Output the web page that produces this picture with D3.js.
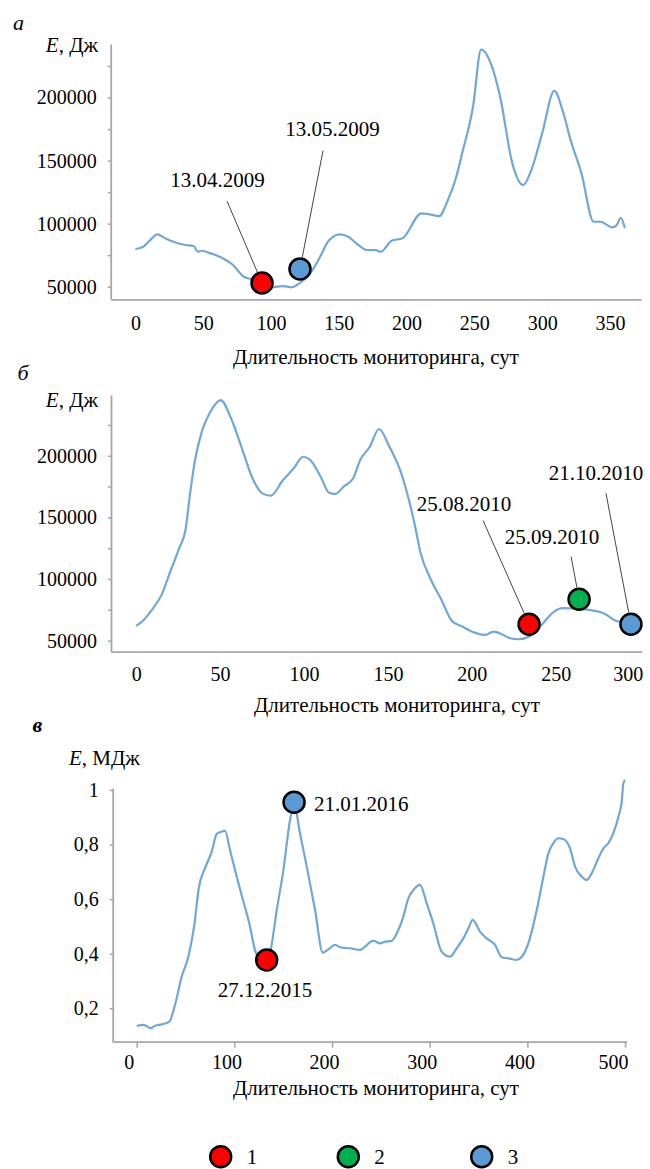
<!DOCTYPE html>
<html>
<head>
<meta charset="utf-8">
<script src="https://cdn.jsdelivr.net/npm/d3@7"></script>
<style>
  html, body { margin: 0; padding: 0; background: #fff; }
  svg { display: block; }
</style>
</head>
<body>
<svg id="chart" width="650" height="1169"></svg>
<script>
// ---- Panel а: 2009 monitoring, energy in J ----
const daysA = [0,5,11,16,22,29,37,43,46,49,54,63,72,80,88,94,100,109,115,121,
  129,135,143,151,157,163,171,177,181,189,197,211,217,224,231,236,241,249,255,262,
  269,278,286,292,300,309,315,321,329,338,343,352,355,358,361];
const energyA = [79900,81200,87000,91500,88400,85200,83100,82300,77700,78500,
  77000,73300,67200,57900,55300,52900,49500,50500,49500,52700,
  60600,71200,87000,91500,89600,84400,79100,79100,77700,86500,
  88400,108200,107400,106000,120100,134600,155800,192700,238300,227600,
  200700,147800,130600,142500,171600,205400,190100,166300,139900,101500,
  101500,97100,98900,104700,96300];
const xTicksA = [0,50,100,150,200,250,300,350];
const yTicksA = [50000,75000,100000,125000,150000,175000,200000,225000];
const yLabelsA = [50000,100000,150000,200000];
const markerDaysA = [93.4, 121.4];
const markerValuesA = [52900, 64000];
const markerTypesA = [1, 3];
const markerTextA = ["13.04.2009", "13.05.2009"];

// ---- Panel б: 2010 monitoring, energy in J ----
const daysB = [0,4.5,9.4,15.1,20.7,25.6,29.4,32,35,39.2,44.2,
  50.4,56.5,62.7,68.9,75.1,80.1,87.5,93.9,99.5,103.7,
  109.9,114.9,118.6,123.6,129.3,133.5,139.2,144.7,150.9,157.6,
  165.8,169.5,175.7,181.9,188,194.3,201.7,207.9,212.9,216.6,
  222.8,227.8,234,241.5,249,254,266,278.5,284.7,291,295];
const energyB = [61900,66800,74900,87100,107300,124900,140000,168000,196000,220000,235700,
  245200,230400,207300,183000,169500,167600,180300,189800,199200,196500,
  183000,170000,169000,174900,181700,196500,207300,221700,207300,187100,
  145200,120900,99200,83000,66200,61400,56500,54600,57300,56000,
  51900,51100,53200,62700,73500,76300,75500,72200,66800,64100,62000];
const xTicksB = [0,50,100,150,200,250,300];
const yTicksB = [50000,75000,100000,125000,150000,175000,200000,225000];
const yLabelsB = [50000,100000,150000,200000];
const markerDaysB = [234.1, 263.9, 294.8];
const markerValuesB = [63300, 83600, 63300];
const markerTypesB = [1, 2, 3];
const markerTextB = ["25.08.2010", "25.09.2010", "21.10.2010"];

// ---- Panel в: 2015-2016 monitoring, energy in MJ ----
const daysC = [0,6.8,10.2,14.3,18.7,25.6,33.4,39.2,46,52.9,
  58.7,63.8,69.9,76.8,81.9,85.3,90.4,95.5,102.4,109.2,
  115.3,121.1,126.3,133,137.2,143.4,150.2,157,161,167.2,
  174.1,182.6,190.5,196.2,203,209.9,218.4,228.7,233.8,242.3,
  249.1,254.3,261.1,267.9,273,278.1,283.2,290.1,296.9,303.7,
  312.3,320.8,327.7,334.4,339.6,344,351.5,358.4,366.9,373.7,
  380.5,389.1,394.2,401,409.6,416.4,421.5,426.6,431.7,436.8,
  443.7,448.8,455.7,460.8,465.9,472.7,477.8,482.9,488,493.2,
  496.6,498.3,500];
const energyC = [0.135,0.139,0.135,0.127,0.136,0.141,0.151,0.212,0.316,0.389,
  0.499,0.646,0.713,0.774,0.839,0.845,0.850,0.780,0.682,0.591,
  0.511,0.414,0.377,0.365,0.414,0.560,0.707,0.890,0.950,0.841,
  0.719,0.560,0.404,0.416,0.432,0.422,0.420,0.414,0.426,0.448,
  0.438,0.444,0.447,0.487,0.536,0.603,0.633,0.652,0.585,0.511,
  0.407,0.389,0.420,0.456,0.493,0.524,0.481,0.456,0.432,0.387,
  0.383,0.377,0.389,0.438,0.560,0.682,0.768,0.805,0.823,0.820,
  0.786,0.719,0.682,0.670,0.695,0.750,0.786,0.805,0.841,0.902,
  0.957,1.024,1.037];
const xTicksC = [0,100,200,300,400,500];
const yTicksC = [0.2,0.4,0.6,0.8,1.0];
const yLabelsC = [0.2,0.4,0.6,0.8,1.0];
const markerDaysC = [133.1, 161.1];
const markerValuesC = [0.377, 0.955];
const markerTypesC = [1, 3];
const markerTextC = ["27.12.2015", "21.01.2016"];

// ---- Legend ----
const legendTypes = [1, 2, 3];
const legendLabels = ["1", "2", "3"];

const typeColors = { 1: "#ff0000", 2: "#00b050", 3: "#5b9bd5" };
const LINE_COLOR = "#72a7d4";
const AXIS_COLOR = "#a6a6a6";
const FONT = '"Liberation Serif"';
const DOT_R = 10.5;
const xTitle = "Длительность мониторинга, сут";

const svg = d3.select("#chart");

// every text element gets the serif face and a size
function serif(sel, size) {
  return sel.attr("font-family", null).style("font-family", FONT).style("font-size", size + "px");
}

function drawPanel(p) {
  const x = d3.scaleLinear().domain(p.xDomain).range(p.xRange);
  const y = d3.scaleLinear().domain(p.yDomain).range(p.yRange);
  const g = svg.append("g");

  // y axis with minor ticks, labels only on major ones
  const yAxis = d3.axisLeft(y)
    .tickValues(p.yTicks)
    .tickSize(3)
    .tickSizeOuter(0)
    .tickPadding(11)
    .tickFormat(d => p.yLabels.some(v => Math.abs(v - d) < 1e-9) ? p.yFormat(d) : "");
  const ya = g.append("g").attr("transform", `translate(${p.xRange[0]},0)`).call(yAxis);

  // x axis
  const xAxis = d3.axisBottom(x)
    .tickValues(p.xTicks)
    .tickSize(p.xTickSize)
    .tickSizeOuter(0)
    .tickFormat(d3.format("d"));
  const xa = g.append("g").attr("transform", `translate(0,${p.yRange[0]})`).call(xAxis);
  xa.selectAll("text").attr("y", p.xLabelOffset).attr("dy", "0.35em")
    .attr("dx", (d, i, n) => i === n.length - 1 ? p.xLastDx : p.xLabelDx);

  [ya, xa].forEach(a => {
    a.attr("font-family", null).attr("font-size", null);
    a.select(".domain").attr("stroke", AXIS_COLOR).attr("stroke-width", 1.8);
    a.selectAll(".tick line").attr("stroke", AXIS_COLOR).attr("stroke-width", 1.5);
    serif(a.selectAll("text").attr("fill", "#000"), 20);
  });

  // series line
  const pts = d3.zip(p.days, p.values);
  g.append("path")
    .datum(pts)
    .attr("fill", "none")
    .attr("stroke", LINE_COLOR)
    .attr("stroke-width", 2.2)
    .attr("stroke-linejoin", "round")
    .attr("d", d3.line().x(d => x(d[0])).y(d => y(d[1])).curve(d3.curveMonotoneX));

  // markers with date annotations
  const marks = p.mDays.map((d, i) => ({
    cx: x(d), cy: y(p.mValues[i]), type: p.mTypes[i], text: p.mText[i], ann: p.ann[i]
  }));

  marks.forEach(m => {
    if (m.ann.line) {
      const [sx, sy] = m.ann.line;
      const len = Math.hypot(sx, sy);
      const k = (DOT_R + 1.5) / len;
      g.append("line")
        .attr("x1", m.cx + sx).attr("y1", m.cy + sy)
        .attr("x2", m.cx + sx * k).attr("y2", m.cy + sy * k)
        .attr("stroke", "#444").attr("stroke-width", 1);
    }
  });

  g.selectAll("circle.marker").data(marks).join("circle")
    .attr("class", "marker")
    .attr("cx", d => d.cx).attr("cy", d => d.cy).attr("r", DOT_R)
    .attr("fill", d => typeColors[d.type])
    .attr("stroke", "#000").attr("stroke-width", 2.5);

  serif(g.selectAll("text.date").data(marks).join("text")
    .attr("class", "date")
    .attr("x", d => d.cx + d.ann.label[0])
    .attr("y", d => d.cy + d.ann.label[1])
    .attr("dy", "0.35em")
    .attr("text-anchor", d => d.ann.anchor || "middle")
    .text(d => d.text), 21);

  // axis titles
  serif(g.append("text")
    .attr("x", p.xTitlePos[0]).attr("y", p.xTitlePos[1]).attr("dy", "0.35em")
    .attr("text-anchor", "middle").text(xTitle), 21);

  const yt = serif(g.append("text")
    .attr("x", p.yTitlePos[0]).attr("y", p.yTitlePos[1]).attr("dy", "0.35em")
    .attr("text-anchor", p.yTitleAnchor), 21);
  yt.append("tspan").style("font-style", "italic").text("E");
  yt.append("tspan").text(p.yUnit);

  // panel letter
  serif(g.append("text")
    .attr("x", p.letterPos[0]).attr("y", p.letterPos[1]).attr("dy", "0.35em")
    .attr("text-anchor", "middle")
    .style("font-style", "italic")
    .style("font-weight", p.letterBold ? "bold" : "normal")
    .text(p.letter), 22);
}

const fmtInt = d3.format("d");
const fmtComma = d => String(d3.format("~g")(d)).replace(".", ",");

drawPanel({
  days: daysA, values: energyA,
  xDomain: [-18.2, 372.9], xRange: [110.7, 641],
  yDomain: [40000, 242500], yRange: [299.3, 44],
  xTicks: xTicksA, yTicks: yTicksA, yLabels: yLabelsA, yFormat: fmtInt,
  xTickSize: 0, xLabelOffset: 24, xLabelDx: 0, xLastDx: 0,
  mDays: markerDaysA, mValues: markerValuesA, mTypes: markerTypesA, mText: markerTextA,
  ann: [
    { label: [-44.5, -103.7], line: [-35, -82] },
    { label: [32.5, -140.7], line: [23, -118.3] }
  ],
  xTitlePos: [376, 357], yTitlePos: [98, 45], yTitleAnchor: "end", yUnit: ", Дж",
  letter: "а", letterPos: [18.5, 22], letterBold: false
});

drawPanel({
  days: daysB, values: energyB,
  xDomain: [-15, 301.2], xRange: [111, 641.7],
  yDomain: [41000, 249300], yRange: [651.7, 395],
  xTicks: xTicksB, yTicks: yTicksB, yLabels: yLabelsB, yFormat: fmtInt,
  xTickSize: 0, xLabelOffset: 22.3, xLabelDx: 0, xLastDx: -12,
  mDays: markerDaysB, mValues: markerValuesB, mTypes: markerTypesB, mText: markerTextB,
  ann: [
    { label: [-65, -120.3], line: [-46, -103.6] },
    { label: [-27, -62.6], line: [-8, -42.6] },
    { label: [-35, -151.3], line: [-25, -131] }
  ],
  xTitlePos: [397, 705], yTitlePos: [98, 400], yTitleAnchor: "end", yUnit: ", Дж",
  letter: "б", letterPos: [23, 372], letterBold: false
});

drawPanel({
  days: daysC, values: energyC,
  xDomain: [-24.6, 501.7], xRange: [112.7, 626.7],
  yDomain: [0.0776, 1.007], yRange: [1041.7, 788],
  xTicks: xTicksC, yTicks: yTicksC, yLabels: yLabelsC, yFormat: fmtComma,
  xTickSize: 6, xLabelOffset: 20, xLabelDx: -8, xLastDx: -12,
  mDays: markerDaysC, mValues: markerValuesC, mTypes: markerTypesC, mText: markerTextC,
  ann: [
    { label: [-1.7, 30] },
    { label: [20, 1], anchor: "start" }
  ],
  xTitlePos: [376, 1088], yTitlePos: [69, 758], yTitleAnchor: "start", yUnit: ", МДж",
  letter: "в", letterPos: [37.5, 724], letterBold: true
});

// legend
const legendX = d3.scaleOrdinal().domain(legendTypes).range([220.7, 348.3, 481.7]);
const lg = svg.append("g");
legendTypes.forEach((t, i) => {
  const cx = legendX(t);
  lg.append("circle").attr("cx", cx).attr("cy", 1156.7).attr("r", DOT_R)
    .attr("fill", typeColors[t]).attr("stroke", "#000").attr("stroke-width", 2.5);
  serif(lg.append("text").attr("x", cx + 26).attr("y", 1157).attr("dy", "0.35em")
    .text(legendLabels[i]), 21);
});
</script>
</body>
</html>
